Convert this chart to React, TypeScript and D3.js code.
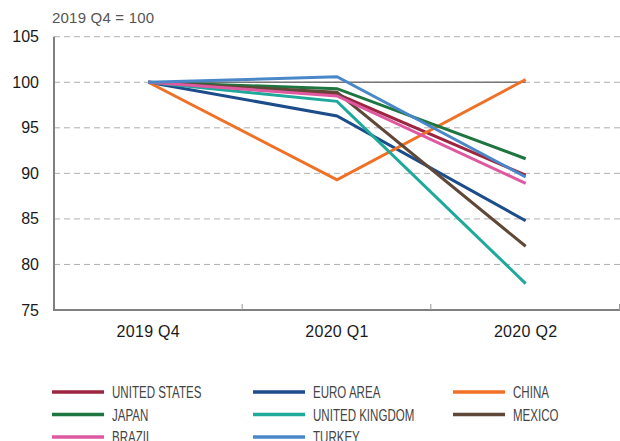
import React from "react";
import * as d3 from "d3";

const quarters = ["2019 Q4", "2020 Q1", "2020 Q2"];
const yTicks = [75, 80, 85, 90, 95, 100, 105];

const unitedStates = [100, 98.7, 89.8];
const euroArea = [100, 96.3, 84.8];
const china = [100, 89.3, 100.3];
const japan = [100, 99.3, 91.6];
const unitedKingdom = [100, 97.9, 77.9];
const mexico = [100, 98.9, 82.0];
const brazil = [100, 98.5, 88.9];
const turkey = [100, 100.6, 89.6];

const seriesNames = ["UNITED STATES", "EURO AREA", "CHINA", "JAPAN", "UNITED KINGDOM", "MEXICO", "BRAZIL", "TURKEY"];
const seriesValues = [unitedStates, euroArea, china, japan, unitedKingdom, mexico, brazil, turkey];
const seriesColors = ["#9c2540", "#1c4c8a", "#f07025", "#1f7540", "#1ea99b", "#5f4838", "#df59a0", "#4a87c9"];

const W = 620;
const H = 441;
const left = 54;
const right = 620;
const top = 36.7;
const bottom = 310;

export default function App() {
  const xBand = d3.scaleBand<string>().domain(quarters).range([left, right]).padding(0);
  const xp = (q: string) => (xBand(q) as number) + xBand.bandwidth() / 2;
  const y = d3.scaleLinear().domain([75, 105]).range([bottom, top]);
  const line = d3
    .line<number>()
    .x((_, i) => xp(quarters[i]))
    .y((v) => y(v));

  const boundaries = quarters.map((q) => (xBand(q) as number) + xBand.bandwidth());
  const legendCols = [52, 253, 453];
  const legendRows = [392, 414.5, 437];

  return (
    <svg width={W} height={H} style={{ position: "absolute", left: 0, top: 0 }} fontFamily="Liberation Sans, Arial, sans-serif">
      <rect width={W} height={H} fill="#fff" />
      <text x={52} y={23} fontSize={15} fill="#555" letterSpacing={0.2}>2019 Q4 = 100</text>
      {yTicks.map((t) => (
        <g key={t}>
          {t > 75 && (
            <line x1={left} x2={right} y1={y(t)} y2={y(t)} stroke="#b0b0b0" strokeWidth={1} strokeDasharray="6,4" />
          )}
          <text x={39} y={y(t) + 5.5} fontSize={16} textAnchor="end" fill="#1a1a1a">{t}</text>
        </g>
      ))}
      <line x1={xp(quarters[0])} x2={xp(quarters[2])} y1={y(100)} y2={y(100)} stroke="#777" strokeWidth={1.5} />
      <line x1={left} x2={left} y1={top} y2={bottom + 1} stroke="#808080" strokeWidth={2} />
      <line x1={left - 1} x2={right} y1={bottom} y2={bottom} stroke="#808080" strokeWidth={2} />
      {boundaries.map((b, i) => (
        <line key={i} x1={b - 0.5} x2={b - 0.5} y1={bottom} y2={bottom - 6} stroke="#999" strokeWidth={1} />
      ))}
      {quarters.map((q) => (
        <text key={q} x={xp(q)} y={337} fontSize={16} textAnchor="middle" fill="#1a1a1a" letterSpacing={0.3}>{q}</text>
      ))}
      {seriesValues.map((vals, i) => (
        <path key={seriesNames[i]} d={line(vals) as string} fill="none" stroke={seriesColors[i]} strokeWidth={3} strokeLinejoin="miter" />
      ))}
      {seriesNames.map((name, i) => {
        const cx = legendCols[i % 3];
        const cy = legendRows[Math.floor(i / 3)];
        return (
          <g key={name}>
            <line x1={cx} x2={cx + 52} y1={cy} y2={cy} stroke={seriesColors[i]} strokeWidth={3.5} />
            <text x={0} y={0} fontSize={17} fill="#444" transform={`translate(${cx + 60},${cy + 6}) scale(0.68,1)`}>{name}</text>
          </g>
        );
      })}
    </svg>
  );
}
